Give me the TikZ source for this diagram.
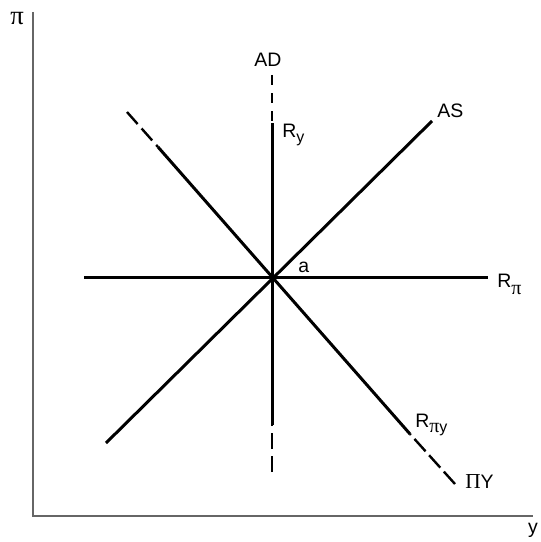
\documentclass[tikz,border=0pt]{standalone}
\usepackage{fontspec}
\setmainfont{Liberation Sans}
\newfontfamily\grk{Liberation Serif}
\usetikzlibrary{positioning, calc}

\newcommand{\sbs}[1]{\raisebox{-0.5ex}{\fontsize{12}{12}\selectfont #1}}

\begin{document}
\begin{tikzpicture}[x=0.75pt, y=-0.75pt, font=\fontsize{14.6}{17}\selectfont]
	\tikzset{
		curve/.style={line width=2.25pt, line cap=butt},
		dashcurve/.style={line width=1.8pt, line cap=butt},
		axis/.style={line width=1pt, black!60},
		lbl/.style={inner sep=0pt, anchor=base west}
	}
	\useasboundingbox (0,0) rectangle (540,542);
	
	% 坐标轴
	\coordinate (O) at (33,516);
	\coordinate (yTop) at (33,12);
	\coordinate (xEnd) at (533,516);
	\draw[axis] (yTop) -- (O) -- (xEnd);
	\node[inner sep=0pt] (piLbl) at (17,19) {\fontsize{20}{20}\selectfont\grk π};
	\node[inner sep=0pt] (yLbl) at (533,530) {y};
	
	% 均衡点 a
	\coordinate (a) at (272,277);
	\node[lbl] (aLbl) at (298,272) {a};
	
	% 水平线 R_pi
	\coordinate (rpL) at (84,277);
	\coordinate (rpR) at (488,277);
	\draw[curve] (rpL) -- (rpR);
	\node[lbl] (rpLbl) at (497,287) {R\raisebox{-0.75ex}{\fontsize{15}{15}\selectfont\grk π}};
	
	% 竖线 AD / R_y
	\coordinate (adTop) at (272,75);
	\coordinate (ryTop) at (272,123);
	\coordinate (ryBot) at (272,425);
	\coordinate (adBot) at (272,472);
	\draw[dashcurve, dash pattern=on 7.5pt off 6pt] (adTop) -- (ryTop);
	\draw[curve] (ryTop) -- (ryBot);
	\draw[dashcurve, dash pattern=on 12pt off 5.25pt] (adBot) -- (ryBot);
	\node[inner sep=0pt] (adLbl) at (268,60) {AD};
	\node[lbl] (ryLbl) at (282,137) {R\sbs{y}};
	
	% 曲线 AS
	\coordinate (asL) at (106,443);
	\coordinate (asR) at (432,121);
	\draw[curve] (asL) -- (asR);
	\node[lbl] (asLbl) at (437,117) {AS};
	
	% 曲线 ΠY / R_piy
	\coordinate (pyTop) at (127,112);
	\coordinate (rpyTop) at (158,147);
	\coordinate (rpyBot) at (410,434);
	\coordinate (pyBot) at (455,484);
	\draw[dashcurve, dash pattern=on 12pt off 4.5pt] (pyTop) -- (rpyTop);
	\draw[curve] (rpyTop) -- (rpyBot);
	\draw[dashcurve, dash pattern=on 12.5pt off 4pt] (pyBot) -- (rpyBot);
	\node[lbl] (rpyLbl) at (415,427) {R\sbs{{\fontsize{15}{15}\selectfont\grk π}y}};
	\node[lbl] (pyLbl) at (465,488) {{\fontsize{16}{16}\selectfont\grk Π}Y};
\end{tikzpicture}
\end{document}
